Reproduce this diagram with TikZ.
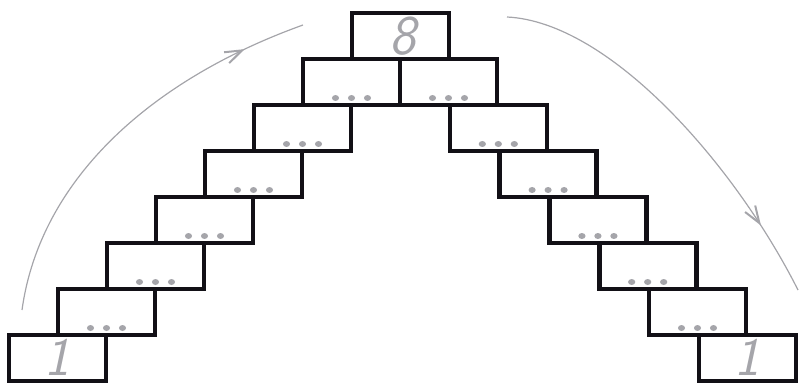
\documentclass[tikz,border=0pt]{standalone}
\usetikzlibrary{arrows.meta,decorations.markings}
\definecolor{pen}{RGB}{18,16,22}
\definecolor{pale}{RGB}{165,165,170}
\begin{document}
\begin{tikzpicture}[x=1pt,y=-1pt,
  brick/.style={draw=pen,line width=4.6pt,minimum width=97pt,minimum height=46pt,inner sep=0pt,outer sep=0pt},
  numtext/.style={text=pale,font=\fontsize{54}{54}\selectfont\sffamily\slshape,inner sep=0pt},
  dotmark/.style={fill=pale},
  arcline/.style={draw=pale,line width=1.2pt},
  midarrow/.style={decoration={markings,mark=at position #1 with {\arrow[line width=2pt]{Straight Barb[length=17pt,width=12pt]}}},postaction={decorate}}
]
\useasboundingbox (0,0) rectangle (801,385);
% top brick
\node[brick] (t) at (400.5,36) {};
% left staircase
\foreach \k in {1,...,7}{
  \node[brick] (l\k) at ({400.5-49*\k},{36+46*\k}) {};
}
% right staircase
\foreach \k in {1,...,7}{
  \node[brick] (r\k) at ({448.5+49.8*(\k-1)},{36+46*\k}) {};
}
% dots
\foreach \n in {l1,l2,l3,l4,l5,l6,r1,r2,r3,r4,r5,r6}{
  \foreach \dx in {-16,0,16}{
    \fill[dotmark] ([xshift=\dx pt,yshift=7pt]\n.south) ellipse (3.6pt and 3pt);
  }
}
% numbers
\node[numtext,font=\fontsize{56}{56}\selectfont\sffamily\slshape] (n8) at ([xshift=2pt,yshift=0pt]t.center) {8};
\node[numtext] (n1l) at ([xshift=0pt,yshift=1pt]l7.center) {1};
\node[numtext] (n1r) at ([xshift=0pt,yshift=1pt]r7.center) {1};
% arcs
\coordinate (la) at (22,310);
\coordinate (lb) at (303,25);
\coordinate (ra) at (507,17);
\coordinate (rb) at (798,290);
\draw[arcline,midarrow=0.85] (la) .. controls (40,180) and (150,80) .. (lb);
\draw[arcline,midarrow=0.82] (ra) .. controls (610,22) and (735,165) .. (rb);
\end{tikzpicture}
\end{document}
